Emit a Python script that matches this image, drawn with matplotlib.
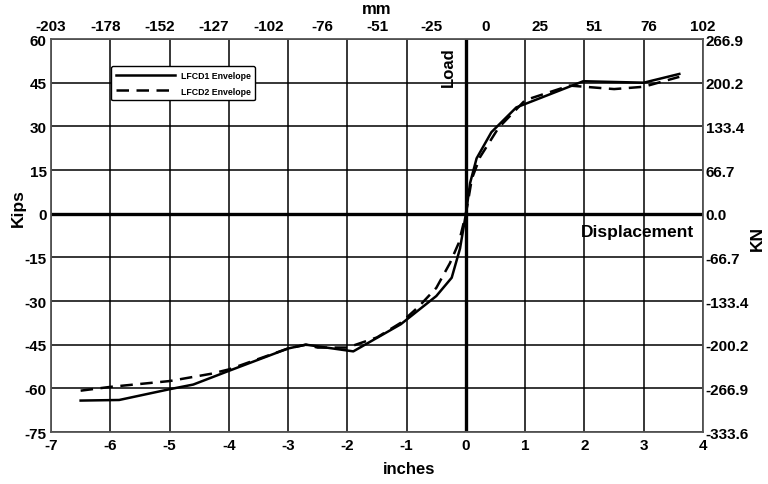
import matplotlib
matplotlib.use("Agg")
import matplotlib.pyplot as plt

plt.rcParams['font.family'] = ['Liberation Sans', 'DejaVu Sans']
plt.rcParams['font.weight'] = 'bold'
plt.rcParams['axes.unicode_minus'] = False

# LFCD1 envelope (inches, kips)
lfcd1_x = [-6.5, -5.85, -5.0, -4.6, -4.0, -3.0, -2.7, -1.9, -1.1, -0.5, -0.24, -0.1, 0.0,
           0.07, 0.18, 0.43, 0.85, 1.98, 3.0, 3.6]
lfcd1_y = [-64.2, -64.0, -60.3, -58.7, -54.0, -46.3, -45.0, -47.3, -38.0, -28.3, -22.0, -12.0, 0.0,
           10.5, 19.0, 28.0, 36.5, 45.5, 45.0, 48.0]

# LFCD2 envelope (inches, kips)
lfcd2_x = [-6.5, -6.0, -5.0, -4.3, -4.0, -3.0, -2.7, -2.5, -2.0, -1.5, -1.1, -0.8, -0.5, -0.27,
           -0.12, 0.0, 0.1, 0.24, 0.55, 1.0, 1.75, 2.0, 2.5, 3.0, 3.6]
lfcd2_y = [-60.8, -59.5, -57.5, -55.0, -53.5, -46.3, -45.0, -46.0, -46.0, -42.5, -37.5, -32.0, -25.5, -17.0,
           -10.0, 0.0, 12.0, 19.5, 29.5, 39.0, 44.0, 43.6, 42.8, 43.6, 47.0]

x_ticks = [-7, -6, -5, -4, -3, -2, -1, 0, 1, 2, 3, 4]
y_ticks = [-75, -60, -45, -30, -15, 0, 15, 30, 45, 60]
mm_labels = ['-203', '-178', '-152', '-127', '-102', '-76', '-51', '-25', '0', '25', '51', '76', '102']
kn_labels = ['-333.6', '-266.9', '-200.2', '-133.4', '-66.7', '0.0', '66.7', '133.4', '200.2', '266.9']

fig = plt.figure(figsize=(7.68, 4.85), dpi=100)
ax = fig.add_axes([0.0664, 0.1072, 0.849, 0.8103])
ax.set_xlim(-7, 4)
ax.set_ylim(-75, 60)
ax.set_xticks(x_ticks)
ax.set_yticks(y_ticks)
ax.grid(True, color='black', linewidth=1.1)
ax.set_axisbelow(True)
for s in ax.spines.values():
    s.set_color('#555555')
    s.set_linewidth(1.3)
ax.axhline(0, color='black', linewidth=2.4, zorder=1.5)
ax.axvline(0, color='black', linewidth=2.4, zorder=1.5)
ax.tick_params(axis='both', labelsize=11, length=0)
ax.tick_params(axis='x', pad=4)
ax.tick_params(axis='y', pad=3)
for lab in ax.get_xticklabels() + ax.get_yticklabels():
    lab.set_fontweight('bold')

ax.plot(lfcd1_x, lfcd1_y, color='black', linewidth=1.8, label='LFCD1 Envelope', zorder=3)
ax.plot(lfcd2_x, lfcd2_y, color='black', linewidth=1.8, linestyle=(0, (5, 3)), label='LFCD2 Envelope', zorder=3)

ax.set_xlabel('inches', fontsize=12, fontweight='bold')
ax.xaxis.set_label_coords(0.549, -0.075)
ax.set_ylabel('Kips', fontsize=12.5, fontweight='bold')
ax.yaxis.set_label_coords(-0.038, 0.573)

# top mm axis
axt = ax.twiny()
axt.set_xlim(0, 12)
axt.set_xticks(range(13))
axt.set_xticklabels(mm_labels, fontsize=11, fontweight='bold')
axt.tick_params(axis='x', length=0, pad=4)
axt.set_xlabel('mm', fontsize=12, fontweight='bold')
axt.xaxis.set_label_coords(0.499, 1.067)
for s in axt.spines.values():
    s.set_visible(False)

# right kN axis
axr = ax.twinx()
axr.set_ylim(-75, 60)
axr.set_yticks(y_ticks)
axr.set_yticklabels(kn_labels, fontsize=11, fontweight='bold')
axr.tick_params(axis='y', length=0, pad=2)
axr.set_ylabel('KN', fontsize=12.5, fontweight='bold', rotation=90)
axr.yaxis.set_label_coords(1.072, 0.496)
for s in axr.spines.values():
    s.set_visible(False)

ax.text(-0.3, 57.5, 'Load', rotation=90, fontsize=12, fontweight='bold', ha='center', va='top')
ax.text(3.85, -3.5, 'Displacement', fontsize=12.5, fontweight='bold', ha='right', va='top')

leg = ax.legend(loc='upper left', bbox_to_anchor=(0.092, 0.931), frameon=True,
                fancybox=True, edgecolor='black', handlelength=6.8, borderpad=0.55,
                borderaxespad=0, labelspacing=0.75, handletextpad=0.6,
                prop={'weight': 'bold', 'size': 6.3})
leg.get_frame().set_linewidth(1.0)
leg.get_frame().set_alpha(1)

fig.savefig('out.png', dpi=100)
